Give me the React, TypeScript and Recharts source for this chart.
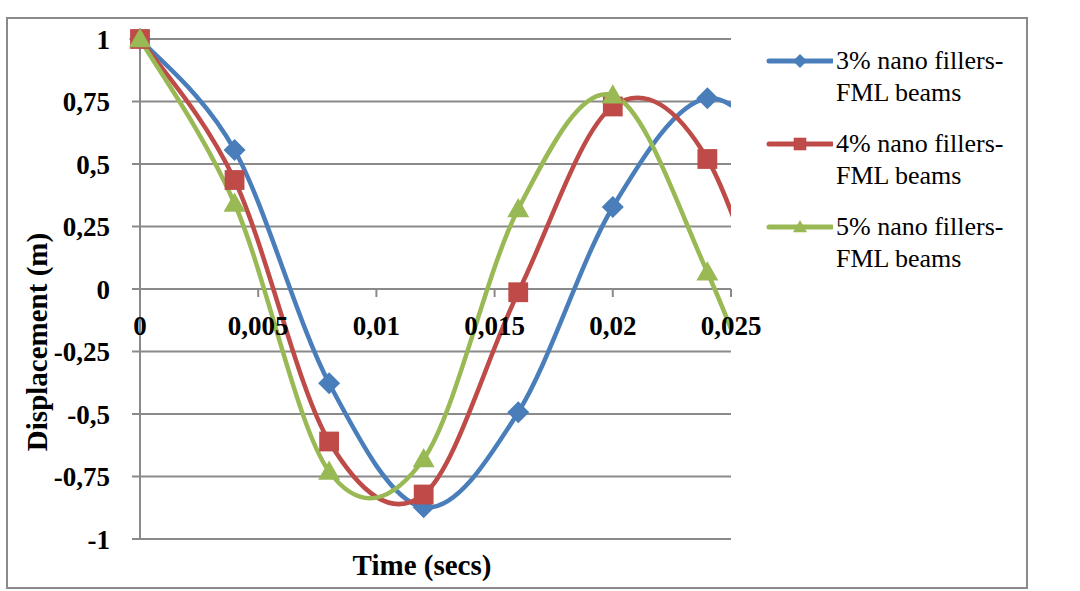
import React from 'react';
import { ComposedChart, Line, XAxis, YAxis, CartesianGrid, Legend } from 'recharts';

// time samples (s); the last one lies past the axis end and only shapes the clipped tail
const times = [0, 0.004, 0.008, 0.012, 0.016, 0.02, 0.024, 0.028];
const fillers3 = [1, 0.556, -0.377, -0.873, -0.493, 0.328, 0.763, 0.45];
const fillers4 = [1, 0.436, -0.61, -0.822, -0.013, 0.73, 0.52, -0.55];
const fillers5 = [1, 0.342, -0.73, -0.68, 0.32, 0.775, 0.067, -0.9];

const xTicks = [0, 0.005, 0.01, 0.015, 0.02, 0.025];
const yTicks = [-1, -0.75, -0.5, -0.25, 0, 0.25, 0.5, 0.75, 1];
const X_MAX = 0.025;

const SERIES = [
  { key: 'v3', name: '3% nano fillers-FML beams', color: '#4A7EBB', shape: 'diamond' },
  { key: 'v4', name: '4% nano fillers-FML beams', color: '#BE4B48', shape: 'square' },
  { key: 'v5', name: '5% nano fillers-FML beams', color: '#98B954', shape: 'triangle' },
];

const rows = times.map((t, i) => ({ t, v3: fillers3[i], v4: fillers4[i], v5: fillers5[i] }));
const markerRows = rows.filter(r => r.t <= X_MAX);

const FONT = 'Liberation Serif, Tinos, DejaVu Serif, serif';
const GRID = '#8a8a8a';
const ZERO_Y = 289;

const fmt = (v: number) => String(v).replace('.', ',');

// Excel-like smoothing: Catmull-Rom style bezier segments through every point
const smoothCurve = (context: any) => {
  let pts: number[][] = [];
  return {
    areaStart() {},
    areaEnd() {},
    lineStart() {
      pts = [];
    },
    lineEnd() {
      const n = pts.length;
      if (!n) return;
      context.moveTo(pts[0][0], pts[0][1]);
      for (let i = 0; i < n - 1; i++) {
        const p0 = pts[Math.max(i - 1, 0)];
        const p1 = pts[i];
        const p2 = pts[i + 1];
        const p3 = pts[Math.min(i + 2, n - 1)];
        context.bezierCurveTo(
          p1[0] + (p2[0] - p0[0]) / 6,
          p1[1] + (p2[1] - p0[1]) / 6,
          p2[0] - (p3[0] - p1[0]) / 6,
          p2[1] - (p3[1] - p1[1]) / 6,
          p2[0],
          p2[1],
        );
      }
    },
    point(x: number, y: number) {
      pts.push([+x, +y]);
    },
  };
};

const marker = (shape: string, cx: number, cy: number, s: number, color: string, key?: string) => {
  if (shape === 'diamond') {
    return <path key={key} d={`M${cx},${cy - s}L${cx + s},${cy}L${cx},${cy + s}L${cx - s},${cy}Z`} fill={color} />;
  }
  if (shape === 'square') {
    const h = s * 0.9;
    return <rect key={key} x={cx - h} y={cy - h} width={h * 2} height={h * 2} fill={color} />;
  }
  return (
    <path
      key={key}
      d={`M${cx},${cy - s}L${cx + s},${cy + s * 0.75}L${cx - s},${cy + s * 0.75}Z`}
      fill={color}
    />
  );
};

const XTick = (props: any) => {
  const { x, payload } = props;
  return (
    <g>
      <line x1={x} x2={x} y1={ZERO_Y} y2={ZERO_Y + 8} stroke={GRID} strokeWidth={2} />
      <text
        x={x}
        y={ZERO_Y + 36}
        dy="0.355em"
        textAnchor="middle"
        style={{ fontFamily: FONT }}
        fontWeight="bold"
        fontSize={27}
        fill="#000"
      >
        {fmt(payload.value)}
      </text>
    </g>
  );
};

const renderLegend = () => (
  <div style={{ fontFamily: FONT, fontSize: 26, lineHeight: '32px', color: '#000' }}>
    {SERIES.map(s => {
      const cut = s.name.indexOf('-') + 1;
      return (
        <div key={s.key} style={{ display: 'flex', alignItems: 'flex-start', marginBottom: 19 }}>
          <svg width={67} height={32}>
            <line x1={3} x2={66} y1={16} y2={16} stroke={s.color} strokeWidth={5} strokeLinecap="round" />
            {marker(s.shape, 34, 16, 7, s.color)}
          </svg>
          <div style={{ marginLeft: 3, whiteSpace: 'nowrap' }}>
            {s.name.slice(0, cut)}
            <br />
            {s.name.slice(cut)}
          </div>
        </div>
      );
    })}
  </div>
);

const App: React.FC = () => {
  return (
    <div
      style={{
        position: 'absolute',
        left: 0,
        top: 0,
        width: 1080,
        height: 591,
        background: '#fff',
        fontFamily: FONT,
      }}
    >
      <div
        style={{
          position: 'absolute',
          left: 6,
          top: 17,
          width: 1022,
          height: 572,
          border: `2px solid ${GRID}`,
          boxSizing: 'border-box',
        }}
      />
      <div style={{ position: 'absolute', left: 0, top: 0 }}>
        <ComposedChart
          width={1080}
          height={591}
          data={rows}
          margin={{ top: 39, right: 349, bottom: 22, left: 40 }}
        >
          <CartesianGrid horizontal vertical={false} stroke={GRID} strokeWidth={2} />
          <XAxis
            dataKey="t"
            type="number"
            domain={[0, X_MAX]}
            ticks={xTicks}
            allowDataOverflow
            axisLine={false}
            tickLine={false}
            height={30}
            tick={<XTick />}
            interval={0}
            label={() => (
              <text
                x={422}
                y={565}
                dy="0.355em"
                textAnchor="middle"
                style={{ fontFamily: FONT }}
                fontWeight="bold"
                fontSize={29}
                fill="#000"
              >
                Time (secs)
              </text>
            )}
          />
          <XAxis xAxisId="m" dataKey="t" type="number" domain={[0, X_MAX]} hide />
          <YAxis
            type="number"
            domain={[-1, 1]}
            ticks={yTicks}
            interval={0}
            width={100}
            axisLine={{ stroke: GRID, strokeWidth: 2 }}
            tickLine={{ stroke: GRID, strokeWidth: 2 }}
            tickSize={8}
            tickMargin={22}
            tickFormatter={fmt}
            tick={{ style: { fontFamily: FONT }, fontWeight: 'bold', fontSize: 27, fill: '#000' }}
            label={() => (
              <text
                x={37}
                y={342}
                dy="0.355em"
                transform="rotate(-90 37 342)"
                textAnchor="middle"
                style={{ fontFamily: FONT }}
                fontWeight="bold"
                fontSize={29}
                fill="#000"
              >
                Displacement (m)
              </text>
            )}
          />
          {SERIES.flatMap(s => [
            <Line
              key={`${s.key}-line`}
              dataKey={s.key}
              name={s.name}
              type={smoothCurve as any}
              stroke={s.color}
              strokeWidth={4.5}
              dot={false}
              activeDot={false}
              isAnimationActive={false}
            />,
            <Line
              key={`${s.key}-marks`}
              data={markerRows}
              xAxisId="m"
              dataKey={s.key}
              legendType="none"
              stroke="none"
              strokeWidth={0}
              dot={(p: any) => marker(s.shape, p.cx, p.cy, 11, s.color, `${s.key}-${p.index}`)}
              activeDot={false}
              isAnimationActive={false}
            />,
          ])}
          <Legend
            layout="vertical"
            align="center"
            verticalAlign="middle"
            content={renderLegend}
            wrapperStyle={{ left: 766, top: 45, width: 280 }}
          />
        </ComposedChart>
      </div>
    </div>
  );
};

export default App;
